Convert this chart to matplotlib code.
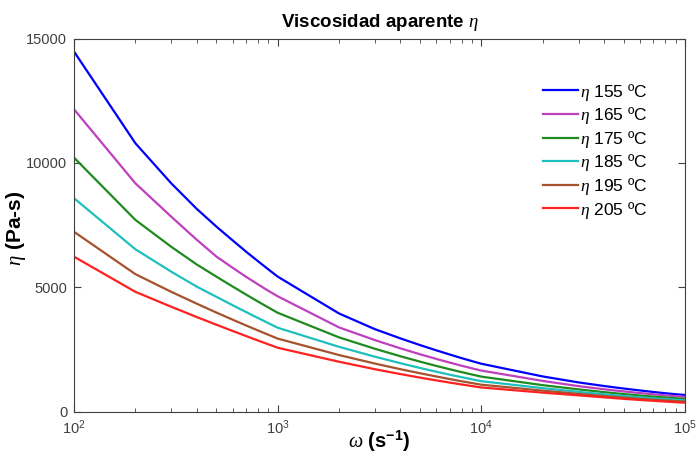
import numpy as np
import matplotlib
matplotlib.use("Agg")
import matplotlib.pyplot as plt

plt.rcParams["font.family"] = ["Liberation Sans", "DejaVu Sans"]
plt.rcParams["mathtext.fontset"] = "custom"
plt.rcParams["mathtext.rm"] = "Liberation Sans"
plt.rcParams["mathtext.bf"] = "Liberation Sans:bold"
plt.rcParams["mathtext.it"] = "Liberation Serif:italic"

# shear rate (1/s)
omega = [100, 200, 300, 400, 500, 600, 700, 800, 900,
         1000, 2000, 3000, 4000, 5000, 6000, 7000, 8000, 9000,
         10000, 20000, 30000, 40000, 50000, 60000, 70000, 80000, 90000,
         100000]

# apparent viscosity (Pa-s) per temperature
eta_155 = [14470, 10790, 9180, 8155, 7440, 6890, 6430, 6050, 5720,
           5430, 3950, 3320, 2950, 2680, 2470, 2300, 2155, 2035,
           1930, 1420, 1180, 1036, 934, 857, 795, 745, 705,
           675]
eta_165 = [12150, 9180, 7840, 6915, 6236, 5790, 5420, 5120, 4860,
           4640, 3390, 2880, 2550, 2310, 2125, 1975, 1850, 1745,
           1655, 1240, 1030, 905, 818, 753, 702, 661, 627,
           598]
eta_175 = [10210, 7710, 6630, 5920, 5430, 5035, 4707, 4429, 4189,
           3977, 2990, 2532, 2232, 2014, 1844, 1707, 1594, 1497,
           1412, 1070, 900, 790, 712, 654, 609, 573, 543,
           518]
eta_185 = [8580, 6530, 5630, 5030, 4620, 4284, 4006, 3768, 3561,
           3377, 2610, 2214, 1952, 1760, 1611, 1490, 1390, 1304,
           1229, 950, 800, 703, 633, 581, 540, 507, 480,
           457]
eta_195 = [7230, 5530, 4820, 4345, 3986, 3702, 3467, 3267, 3094,
           2940, 2280, 1937, 1712, 1547, 1419, 1314, 1227, 1153,
           1088, 850, 720, 632, 569, 522, 484, 454, 429,
           408]
eta_205 = [6230, 4820, 4220, 3808, 3498, 3249, 3041, 2864, 2711,
           2573, 2010, 1711, 1516, 1373, 1262, 1172, 1097, 1033,
           976, 770, 660, 580, 520, 475, 440, 410, 385,
           365]

series = [eta_155, eta_165, eta_175, eta_185, eta_195, eta_205]
labels = [r"$\eta$ 155 ºC", r"$\eta$ 165 ºC", r"$\eta$ 175 ºC",
          r"$\eta$ 185 ºC", r"$\eta$ 195 ºC", r"$\eta$ 205 ºC"]
colors = ["#0000ff", "#bf3fbf", "#1f8a1f", "#1fbfbf", "#a5522d", "#ff2020"]

fig = plt.figure(figsize=(6.99, 4.53), dpi=100)
ax = fig.add_axes([0.106, 0.091, 0.874, 0.824])

for y, lab, c in zip(series, labels, colors):
    ax.plot(omega, y, color=c, lw=1.6, label=lab)

ax.set_xscale("log")
ax.set_xlim(1e2, 1e5)
ax.set_ylim(0, 15000)
ax.set_yticks([0, 5000, 10000, 15000])

grey = "#404040"
for s in ax.spines.values():
    s.set_color(grey)
    s.set_linewidth(0.8)
ax.tick_params(which="both", direction="in", top=True, right=True,
               colors=grey, labelsize=10.5)
ax.tick_params(which="major", length=5, pad=5)
ax.tick_params(which="minor", length=3)

ax.set_title(r"Viscosidad aparente $\eta$", fontsize=13.5, fontweight="bold", pad=8)
ax.set_xlabel(r"$\omega$ (s$^{\mathbf{-1}}$)", fontsize=14.5, fontweight="bold")
ax.xaxis.set_label_coords(0.5, -0.045)
ax.set_ylabel(r"$\eta$ (Pa-s)", fontsize=15, fontweight="bold")
ax.yaxis.set_label_coords(-0.075, 0.49)

ax.legend(loc="upper left", bbox_to_anchor=(0.753, 0.908), frameon=False,
          fontsize=12.5, handlelength=2.0, handletextpad=0.12,
          labelspacing=0.15, borderpad=0)

fig.savefig("out.png", dpi=100)
